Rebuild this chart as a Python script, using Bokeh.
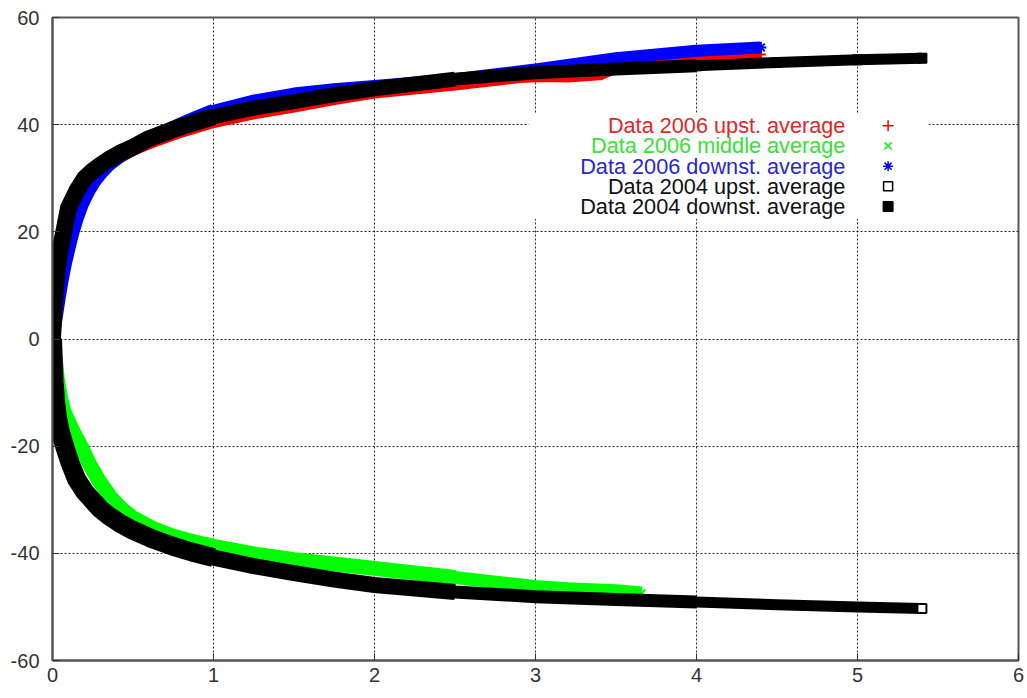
from bokeh.plotting import figure
from bokeh.models import FixedTicker, Range1d
from bokeh.core.properties import value
from bokeh.embed import file_html
from bokeh.resources import INLINE

# ---------------- data ----------------
# Data 2006 upst. average (red, +)
up06_x = [0.0, 0.02, 0.05, 0.10, 0.15, 0.20, 0.30, 0.40, 0.50, 0.65, 0.80, 1.0, 1.25, 1.5, 1.75,
          2.0, 2.5, 2.9, 3.05, 3.2, 3.4, 3.5, 3.7, 4.0, 4.4]
up06_y = [0.0, 5.0, 12.0, 20.0, 25.0, 28.0, 31.5, 33.5, 35.2, 37.0, 38.6, 40.4, 42.0, 43.3, 44.7,
          45.9, 47.4, 48.8, 49.0, 48.9, 49.3, 50.6, 51.6, 52.5, 53.1]

# Data 2006 middle average (green, x)
mid06_x = [0.0, 0.01, 0.02, 0.03, 0.05, 0.07, 0.10, 0.14, 0.18, 0.23, 0.29, 0.36, 0.43, 0.50,
           0.62, 0.75, 0.87, 1.0, 1.25, 1.5, 1.75, 2.0, 2.5, 3.0, 3.2, 3.5, 3.66]
mid06_y = [0.0, -2.0, -4.5, -7.5, -11.0, -13.5, -15.5, -18.0, -20.2, -23.4, -26.5, -29.5, -31.7,
           -33.4, -35.3, -36.8, -37.8, -38.7, -40.1, -41.2, -42.0, -42.8, -44.5, -46.2, -46.6,
           -47.0, -47.4]

# Data 2006 downst. average (blue, *)
dn06_x = [0.0, 0.01, 0.02, 0.04, 0.06, 0.08, 0.10, 0.12, 0.15, 0.18, 0.22, 0.26, 0.30, 0.35,
          0.42, 0.50, 0.60, 0.70, 0.80, 0.90, 1.0, 1.25, 1.5, 1.75, 2.0, 2.5, 3.0, 3.5, 4.0, 4.4]
dn06_y = [0.0, 2.0, 4.0, 8.0, 11.5, 14.5, 17.0, 19.5, 22.5, 25.0, 27.5, 29.5, 31.0, 32.6,
          34.2, 35.6, 37.2, 38.7, 40.1, 41.4, 42.6, 44.5, 45.8, 46.6, 47.2, 48.5, 50.3, 52.4, 53.8, 54.4]

# Data 2004 upst. average (black, open squares)
up04_x = [0.0, 0.005, 0.01, 0.02, 0.03, 0.05, 0.08, 0.11, 0.15, 0.20, 0.25, 0.30, 0.35, 0.42,
          0.50, 0.62, 0.75, 0.87, 1.0, 1.25, 1.5, 1.75, 2.0, 2.5, 3.0, 3.5, 4.0, 4.5, 5.0, 5.4]
up04_y = [0.0, -4.0, -8.0, -12.0, -14.5, -17.5, -20.5, -23.2, -26.2, -28.5, -30.2, -31.8, -33.0,
          -34.4, -35.7, -37.3, -38.7, -39.8, -40.8, -42.4, -43.7, -44.9, -45.9, -47.2, -48.1,
          -48.6, -49.1, -49.6, -50.0, -50.3]

# Data 2004 downst. average (black, filled squares)
dn04_x = [0.0, 0.005, 0.01, 0.02, 0.03, 0.05, 0.07, 0.10, 0.15, 0.20, 0.25, 0.30, 0.35, 0.42,
          0.50, 0.60, 0.75, 0.87, 1.0, 1.25, 1.5, 1.75, 2.0, 2.5, 3.0, 3.5, 4.0, 4.5, 5.0, 5.4]
dn04_y = [0.0, 3.0, 6.0, 10.0, 13.0, 17.0, 20.0, 24.5, 27.6, 30.0, 31.4, 32.5, 33.5, 34.7,
          35.8, 37.4, 39.1, 40.3, 41.5, 43.1, 44.3, 45.6, 46.7, 48.5, 49.7, 50.4, 51.0, 51.6,
          52.1, 52.4]

legend_labels = [
    "Data 2006 upst. average",
    "Data 2006 middle average",
    "Data 2006 downst. average",
    "Data 2004 upst. average",
    "Data 2004 downst. average",
]

x_ticks = [0, 1, 2, 3, 4, 5, 6]
y_ticks = [-60, -40, -20, 0, 20, 40, 60]

# ---------------- figure ----------------
FONT = "Liberation Sans"

p = figure(
    width=1024, height=690,
    x_range=Range1d(0, 6), y_range=Range1d(-60, 60),
    output_backend="svg", toolbar_location=None,
    min_border_left=52, min_border_right=6, min_border_top=17, min_border_bottom=30,
    background_fill_color="white", border_fill_color="white",
)

p.outline_line_color = "#555555"
p.outline_line_width = 2

for ax, ticks in ((p.xaxis[0], x_ticks), (p.yaxis[0], y_ticks)):
    ax.ticker = FixedTicker(ticks=ticks)
    ax.axis_line_color = "#555555"
    ax.axis_line_width = 2
    ax.major_tick_in = 7
    ax.major_tick_out = 0
    ax.major_tick_line_color = "#333333"
    ax.minor_tick_line_color = None
    ax.major_label_text_font = FONT
    ax.major_label_text_font_size = "20px"
    ax.major_label_text_color = "#333333"

p.yaxis[0].major_label_overrides = {t: str(t) for t in y_ticks}
p.xaxis[0].major_label_overrides = {t: str(t) for t in x_ticks}
p.xaxis[0].major_label_standoff = 7
p.yaxis[0].major_label_standoff = 13

for g in (p.xgrid[0], p.ygrid[0]):
    g.grid_line_color = "black"
    g.grid_line_dash = "2 2"
    g.grid_line_width = 1
    g.grid_line_alpha = 0.85

# ---------------- series (gnuplot draw order) ----------------
RED, GREEN, BLUE, BLACK = "#ff0000", "#00ff00", "#0000ff", "#000000"


def band(xs, ys, color, tiers):
    """Draw the dense point cloud as a band; scatter is wider near the origin."""
    for limit, w in tiers:
        n = sum(1 for x in xs if x <= limit)
        p.line(xs[:n], ys[:n], line_color=color, line_width=w,
               line_join="round", line_cap="butt")


band(up06_x, up06_y, RED, [(99, 11)])
p.scatter(up06_x, up06_y, marker="cross", size=10, line_color=RED, line_width=2)

band(mid06_x, mid06_y, GREEN, [(99, 13), (2.6, 15)])
p.scatter(mid06_x, mid06_y, marker="x", size=10, line_color=GREEN, line_width=2)

band(dn06_x, dn06_y, BLUE, [(99, 12), (1.0, 14)])
p.scatter(dn06_x, dn06_y, marker="asterisk", size=11, line_color=BLUE, line_width=2)

band(up04_x, up04_y, BLACK, [(99, 11), (4.0, 13), (2.5, 16), (1.0, 19)])
p.scatter(up04_x[-1:], up04_y[-1:], marker="square", size=9, fill_color="white",
          line_color=BLACK, line_width=2)

band(dn04_x, dn04_y, BLACK, [(99, 11), (4.0, 13), (2.5, 15), (1.0, 17)])
p.scatter(dn04_x, dn04_y, marker="square", size=10, fill_color=BLACK, line_color=BLACK)

# ---------------- key (gnuplot style, opaque) ----------------
key_left, key_right, key_bottom, key_top = 2.957, 5.441, 22.4, 42.2
p.quad(left=[key_left], right=[key_right], bottom=[key_bottom], top=[key_top],
       fill_color="white", line_color=None)

row_top, row_step = 39.8, 3.77
rows = [row_top - i * row_step for i in range(len(legend_labels))]
text_colors = ["#e02828", "#38e038", "#2828d0", "#111111", "#111111"]
text_x = 4.925
mark_x = 5.19

p.text(x=[text_x] * len(legend_labels), y=rows, text=legend_labels,
       text_align="right", text_baseline="middle",
       text_font=value(FONT), text_font_size="21.7px", text_color=text_colors)

p.scatter([mark_x], [rows[0]], marker="cross", size=11, line_color=RED, line_width=1.5)
p.scatter([mark_x], [rows[1]], marker="x", size=10, line_color=GREEN, line_width=1.5)
p.scatter([mark_x], [rows[2]], marker="asterisk", size=10, line_color=BLUE, line_width=1.5)
p.scatter([mark_x], [rows[3]], marker="square", size=9, fill_color="white",
          line_color=BLACK, line_width=1.5)
p.scatter([mark_x], [rows[4]], marker="square", size=10, fill_color=BLACK, line_color=BLACK)

open("out.html", "w").write(file_html(p, INLINE))
